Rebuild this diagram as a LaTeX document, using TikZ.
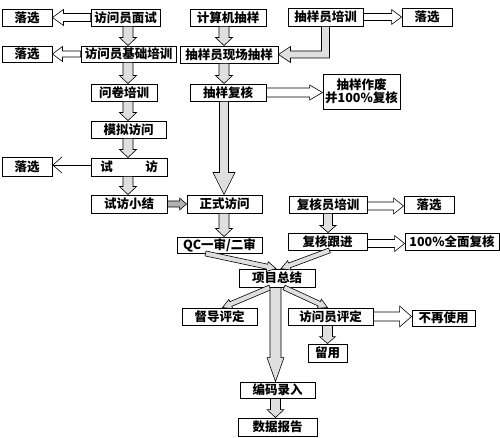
\documentclass[tikz,border=0pt]{standalone}
\usepackage{fontspec}
\newfontfamily\cjk{Noto Sans CJK SC}
\usetikzlibrary{calc}
\usetikzlibrary{arrows.meta}

\newcommand\barrow[6][shaft]{%
  \coordinate (ba) at (#2);
  \coordinate (bb) at (#3);
  \coordinate (bh) at ($(bb)!#6!(ba)$);
  \filldraw[#1] ($(ba)!#4!90:(bb)$) -- ($(bh)!#4!-90:(ba)$) -- ($(bh)!#5!-90:(ba)$) -- (bb)
    -- ($(bh)!#5!90:(ba)$) -- ($(bh)!#4!90:(ba)$) -- ($(ba)!#4!-90:(bb)$) -- cycle;}

\begin{document}
\begin{tikzpicture}[x=1pt,y=-1pt,
    box/.style={draw, line width=0.9pt, inner sep=0pt, font=\cjk\bfseries\fontsize{12.5}{13}\selectfont},
    shaft/.style={draw, line width=0.6pt, fill=gray!25},
    hollow/.style={draw, line width=0.6pt, fill=white},
    darkshaft/.style={draw, line width=0.6pt, fill=gray!60}]
    \useasboundingbox[fill=white] (0,0) rectangle (500,438);

    \node[box, minimum width=50pt, minimum height=17pt] (lx1) at (27,17.5) {落选};
    \node[box, minimum width=69pt, minimum height=17pt] (mianshi) at (125.5,17.5) {访问员面试};
    \node[box, minimum width=50pt, minimum height=16pt] (lx2) at (27,54) {落选};
    \node[box, minimum width=95pt, minimum height=16pt] (jichu) at (128.5,54) {访问员基础培训};
    \node[box, minimum width=66pt, minimum height=17pt] (wenjuan) at (124,92.5) {问卷培训};
    \node[box, minimum width=75pt, minimum height=17pt] (moni) at (128.5,129.5) {模拟访问};
    \node[box, minimum width=76pt, minimum height=18pt] (shifang) at (129,167) {试\hspace{2.6em}访};
    \node[box, minimum width=50pt, minimum height=19pt] (lx3) at (27,166.5) {落选};
    \node[box, minimum width=76pt, minimum height=18pt] (xiaojie) at (129,204) {试访小结};

    \node[box, minimum width=76pt, minimum height=17pt] (jisuanji) at (228,17.5) {计算机抽样};
    \node[box, minimum width=98pt, minimum height=17pt] (xianchang) at (229,54.5) {抽样员现场抽样};
    \node[box, minimum width=76pt, minimum height=17pt] (fuhe) at (228,92.5) {抽样复核};
    \node[box, minimum width=75pt, minimum height=18pt] (chouyangpx) at (325.5,17) {抽样员培训};
    \node[box, minimum width=50pt, minimum height=18pt] (lx4) at (427,17) {落选};
    \node[box, minimum width=77pt, minimum height=35pt, align=center] (zuofei) at (361.5,91.5) {抽样作废\\并100\%复核};

    \node[box, minimum width=75pt, minimum height=18pt] (zhengshi) at (224.5,204) {正式访问};
    \node[box, minimum width=85pt, minimum height=16pt] (qc) at (219.5,245) {QC一审/二审};
    \node[box, minimum width=78pt, minimum height=17pt] (fuhepx) at (328,204.5) {复核员培训};
    \node[box, minimum width=50pt, minimum height=17pt] (lx5) at (429,204.5) {落选};
    \node[box, minimum width=79pt, minimum height=17pt] (genjin) at (327.5,241.5) {复核跟进};
    \node[box, minimum width=94pt, minimum height=17pt] (quanmian) at (452,241.5) {100\%全面复核};

    \node[box, minimum width=76pt, minimum height=18pt] (zongjie) at (277,278) {项目总结};
    \node[box, minimum width=75pt, minimum height=17pt] (dudao) at (219.5,316.5) {督导评定};
    \node[box, minimum width=85pt, minimum height=17pt] (pingding) at (330.5,316.5) {访问员评定};
    \node[box, minimum width=39pt, minimum height=18pt] (liuyong) at (327.5,353) {留用};
    \node[box, minimum width=63pt, minimum height=16pt] (buzai) at (443.5,318) {不再使用};
    \node[box, minimum width=75pt, minimum height=16pt] (bianma) at (277.5,390) {编码录入};
    \node[box, minimum width=79pt, minimum height=18pt] (shuju) at (277.5,427) {数据报告};

    \coordinate (colA) at (128,0);
    \coordinate (colB) at (224,0);
    \coordinate (colC) at (328,0);
    \coordinate (colD) at (275.5,0);

    \barrow{mianshi.south -| colA}{jichu.north -| colA}{5pt}{8.5pt}{8pt}
    \barrow{jichu.south -| colA}{wenjuan.north -| colA}{5pt}{8.5pt}{8pt}
    \barrow{wenjuan.south -| colA}{moni.north -| colA}{5pt}{8.5pt}{8pt}
    \barrow{moni.south -| colA}{shifang.north -| colA}{5pt}{8.5pt}{8pt}
    \barrow{shifang.south -| colA}{xiaojie.north -| colA}{5pt}{8.5pt}{8pt}

    \barrow[hollow]{mianshi.west}{lx1.east}{4pt}{8pt}{11pt}
    \barrow[hollow]{jichu.west}{lx2.east}{3pt}{7.5pt}{10pt}
    \draw[line width=0.6pt, -{Straight Barb[length=9pt,width=16pt]}] ($(shifang.west)+(0,-2)$) -- ($(lx3.east)+(0,-1.5)$);

    \barrow[darkshaft]{xiaojie.east}{zhengshi.west}{3pt}{6pt}{7pt}

    \barrow{jisuanji.south -| colB}{xianchang.north -| colB}{5pt}{8.5pt}{8pt}
    \barrow{xianchang.south -| colB}{fuhe.north -| colB}{5pt}{8.5pt}{8pt}
    \barrow{fuhe.south -| colB}{zhengshi.north -| colB}{4.5pt}{11pt}{22pt}
    \barrow{zhengshi.south -| colB}{qc.north -| colB}{5pt}{8.5pt}{8pt}

    \coordinate (elb) at (chouyangpx.south |- xianchang.east);
    \filldraw[shaft] ($(chouyangpx.south)+(-4,0)$) -- ($(elb)+(-4,-3.5)$) -- ($(xianchang.east)+(12,-3.5)$)
        -- ($(xianchang.east)+(12,-8)$) -- (xianchang.east) -- ($(xianchang.east)+(12,8)$)
        -- ($(xianchang.east)+(12,3.5)$) -- ($(elb)+(4,3.5)$) -- ($(chouyangpx.south)+(4,0)$) -- cycle;

    \barrow[hollow]{chouyangpx.east}{lx4.west}{3.5pt}{7.5pt}{10pt}
    \barrow[hollow]{fuhe.east}{fuhe.east -| zuofei.west}{4.5pt}{7.5pt}{13pt}

    \barrow{fuhepx.south -| colC}{genjin.north -| colC}{4.5pt}{8pt}{7pt}
    \barrow[hollow]{$(fuhepx.east)+(0,1.5)$}{$(lx5.west)+(0,1.5)$}{4pt}{8pt}{10pt}
    \barrow[hollow]{$(genjin.east)+(0,2)$}{$(quanmian.west)+(0,2)$}{4pt}{8pt}{10pt}

    \barrow{$(qc.south)+(-14,0)$}{$(zongjie.north)+(-1,0)$}{2.5pt}{5pt}{9pt}
    \barrow{$(genjin.south)+(2,0)$}{$(zongjie.north)+(4,0)$}{2.5pt}{5pt}{9pt}
    \barrow{$(zongjie.south)+(-7,0)$}{$(dudao.north)+(3,0)$}{2.5pt}{5pt}{9pt}
    \barrow{$(zongjie.south)+(7,0)$}{$(pingding.north)+(-3,0)$}{2.5pt}{5pt}{9pt}

    \barrow{zongjie.south -| colD}{bianma.north -| colD}{5.5pt}{8.5pt}{24pt}
    \barrow{pingding.south -| liuyong.north}{liuyong.north}{5pt}{8pt}{7pt}
    \barrow[hollow]{pingding.east}{pingding.east -| buzai.west}{4.5pt}{10.5pt}{12pt}
    \barrow{bianma.south -| colD}{shuju.north -| colD}{5pt}{8.5pt}{8pt}
\end{tikzpicture}
\end{document}
